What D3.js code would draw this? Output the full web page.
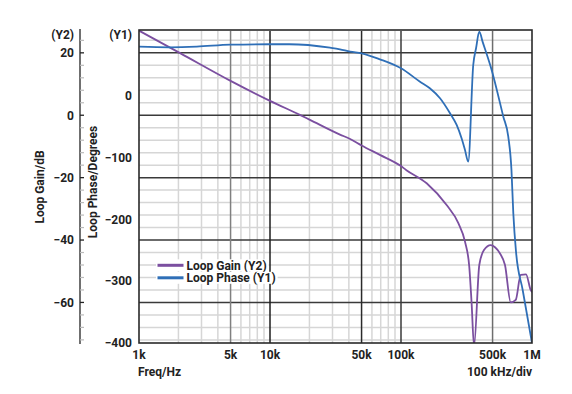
<!DOCTYPE html>
<html>
<head>
<meta charset="utf-8">
<script src="https://cdn.jsdelivr.net/npm/d3@7/dist/d3.min.js"></script>
<style>
  body { margin: 0; background: #fff; }
  text { font-family: Roboto, "DejaVu Sans", sans-serif; font-weight: 700; fill: #222; }
</style>
</head>
<body>
<svg id="chart" width="572" height="394"></svg>
<script>
// ---------- DATA ----------
const gainFreq = [1000, 2060, 5000, 10000, 16900, 20000, 34200, 40900, 50000, 69000, 100000, 110000,
  157000, 223000, 274000, 308000, 332000, 346000, 361000, 396000, 430000, 484000, 522000,
  570000, 622000, 688000, 751000, 820000, 900000, 977000, 1000000];
const gainDb = [27.1, 19.9, 11.0, 4.6, 0.1, -1.4, -6.2, -7.6, -9.7, -12.7, -16.3, -17.6,
  -21.8, -28.8, -34.6, -40.5, -48.5, -60.3, -74, -48.0, -43.2, -41.6, -42.3,
  -44.3, -48.0, -60.0, -59.2, -51.2, -51.0, -56.0, -56.7];

const phaseFreq = [1000, 1700, 2760, 5000, 10000, 14000, 28700, 34200, 40900, 50000, 69100, 100000,
  139700, 166000, 198600, 236700, 266000, 290000, 308000, 326000, 356000, 374000, 396000,
  420000, 492000, 604000, 659000, 697000, 720000, 755000, 849000, 1000000];
const phaseDeg = [78.7, 77.7, 78.7, 81.9, 82.6, 82.6, 77.1, 74.5, 70.6, 68.0, 58.3, 43.8,
  22.1, 11.5, -4.7, -28.9, -47.8, -69.3, -88.2, -107.1, 49.1, 76.1, 102.9,
  86.4, 41.0, -34.4, -66.7, -120.5, -190.5, -252.5, -314.4, -400];

const xTicks = [1e3, 5e3, 1e4, 5e4, 1e5, 5e5, 1e6];
const xTickLabels = ['1k', '5k', '10k', '50k', '100k', '500k', '1M'];
const minorFreqs = [2e3, 3e3, 4e3, 6e3, 7e3, 8e3, 9e3, 2e4, 3e4, 4e4, 6e4, 7e4, 8e4, 9e4];
const y2Ticks = [20, 0, -20, -40, -60];
const y2Minor = [24, 16, 12, 8, 4, -4, -8, -12, -16, -24, -28, -32, -36, -44, -48, -52, -56, -64, -68, -72];
const y1Ticks = [0, -100, -200, -300, -400];

// ---------- LAYOUT ----------
const plotL = 139, plotR = 532, plotT = 31, plotB = 343;
const svg = d3.select('#chart');

const x = d3.scaleLog().domain([1e3, 1e6]).range([plotL, plotR]);
const y1 = d3.scaleLinear().domain([-400, 104]).range([plotB, plotT]);
const y2 = d3.scaleLinear().domain([-73, 27]).range([plotB, plotT]);

// major vertical lines have different shades in the original
const vShade = { 5000: '#808080', 10000: '#1e1e1e', 50000: '#2a2a2a', 100000: '#3a3a3a', 500000: '#6e6e6e' };

// ---------- GRID ----------
const grid = svg.append('g');
grid.selectAll('.hminor').data(y2Minor).enter().append('line')
  .attr('x1', plotL).attr('x2', plotR)
  .attr('y1', d => y2(d)).attr('y2', d => y2(d))
  .attr('stroke', '#d6d6d6').attr('stroke-width', 1.5);
grid.selectAll('.vminor').data(minorFreqs).enter().append('line')
  .attr('x1', d => x(d)).attr('x2', d => x(d))
  .attr('y1', plotT).attr('y2', plotB)
  .attr('stroke', '#d6d6d6').attr('stroke-width', 1.5);
grid.selectAll('.hmajor').data(y2Ticks).enter().append('line')
  .attr('x1', plotL).attr('x2', plotR)
  .attr('y1', d => y2(d)).attr('y2', d => y2(d))
  .attr('stroke', '#3a3a3a').attr('stroke-width', 1.5);
grid.selectAll('.vmajor').data(xTicks.slice(1, -1)).enter().append('line')
  .attr('x1', d => x(d)).attr('x2', d => x(d))
  .attr('y1', plotT).attr('y2', plotB)
  .attr('stroke', d => vShade[d]).attr('stroke-width', 1.5);

// ---------- CURVES ----------
svg.append('clipPath').attr('id', 'plotClip')
  .append('rect').attr('x', plotL).attr('y', plotT - 1).attr('width', plotR - plotL).attr('height', plotB - plotT + 1);

const gainLine = d3.line().x(d => x(d[0])).y(d => y2(d[1])).curve(d3.curveMonotoneX);
const phaseLine = d3.line().x(d => x(d[0])).y(d => y1(d[1])).curve(d3.curveMonotoneX);

svg.append('path')
  .datum(d3.zip(gainFreq, gainDb))
  .attr('d', gainLine)
  .attr('clip-path', 'url(#plotClip)')
  .attr('fill', 'none').attr('stroke', '#7b4fa0').attr('stroke-width', 1.8)
  .attr('stroke-linejoin', 'round');

svg.append('path')
  .datum(d3.zip(phaseFreq, phaseDeg))
  .attr('d', phaseLine)
  .attr('clip-path', 'url(#plotClip)')
  .attr('fill', 'none').attr('stroke', '#2f6fb7').attr('stroke-width', 1.8)
  .attr('stroke-linejoin', 'round');

// plot frame
svg.append('rect')
  .attr('x', plotL).attr('y', plotT - 1).attr('width', plotR - plotL).attr('height', plotB - plotT + 1)
  .attr('fill', 'none').attr('stroke', '#2a2a2a').attr('stroke-width', 1.6);

// ---------- LEGEND ----------
const legendItems = [
  { label: 'Loop Gain (Y2)', color: '#7b4fa0', yPos: 265.3 },
  { label: 'Loop Phase (Y1)', color: '#2f6fb7', yPos: 277.8 }
];
const lg = svg.append('g');
legendItems.forEach(item => {
  const bg = lg.append('rect').attr('fill', '#fff');
  lg.append('line')
    .attr('x1', 157.5).attr('x2', 183.5)
    .attr('y1', item.yPos).attr('y2', item.yPos)
    .attr('stroke', item.color).attr('stroke-width', 3);
  const t = lg.append('text')
    .attr('x', 186.5).attr('y', item.yPos)
    .attr('dy', '0.36em')
    .style('font-size', '12px')
    .text(item.label);
  const w = t.node().getComputedTextLength();
  bg.attr('x', 156).attr('y', item.yPos - 6).attr('width', 186.5 + w + 2 - 156).attr('height', 12);
});

// ---------- AXES ----------
// x tick labels
svg.selectAll('.xlab').data(xTicks).enter().append('text')
  .attr('x', d => x(d)).attr('y', 355).attr('dy', '0.36em')
  .attr('text-anchor', 'middle')
  .style('font-size', '12px')
  .text((d, i) => xTickLabels[i]);

svg.append('text').attr('x', 138).attr('y', 372).attr('dy', '0.36em')
  .style('font-size', '12px').text('Freq/Hz');
svg.append('text').attr('x', 532).attr('y', 372).attr('dy', '0.36em')
  .attr('text-anchor', 'end')
  .style('font-size', '12px').text('100 kHz/div');

// Y2 axis (loop gain)
const y2x = 80;
svg.append('line').attr('x1', y2x).attr('x2', y2x).attr('y1', 29).attr('y2', 344)
  .attr('stroke', '#222').attr('stroke-width', 1.3);
svg.selectAll('.y2minor').data(y2Minor).enter().append('line')
  .attr('x1', y2x).attr('x2', y2x + 4)
  .attr('y1', d => y2(d)).attr('y2', d => y2(d))
  .attr('stroke', '#bbb').attr('stroke-width', 1.2);
svg.selectAll('.y2major').data(y2Ticks).enter().append('line')
  .attr('x1', y2x).attr('x2', y2x + 4)
  .attr('y1', d => y2(d)).attr('y2', d => y2(d))
  .attr('stroke', '#222').attr('stroke-width', 1.3);
svg.selectAll('.y2lab').data(y2Ticks).enter().append('text')
  .attr('x', 74).attr('y', d => y2(d)).attr('dy', '0.36em')
  .attr('text-anchor', 'end')
  .style('font-size', '12px')
  .text(d => d < 0 ? '\u2212' + Math.abs(d) : d);

// Y1 labels (loop phase)
svg.selectAll('.y1lab').data(y1Ticks).enter().append('text')
  .attr('x', 132).attr('y', d => y1(d)).attr('dy', '0.36em')
  .attr('text-anchor', 'end')
  .style('font-size', '12px')
  .text(d => d < 0 ? '\u2212' + Math.abs(d) : d);

svg.append('text').attr('x', 74).attr('y', 35).attr('dy', '0.36em')
  .attr('text-anchor', 'end').style('font-size', '12px').text('(Y2)');
svg.append('text').attr('x', 132).attr('y', 35).attr('dy', '0.36em')
  .attr('text-anchor', 'end').style('font-size', '12px').text('(Y1)');

// axis titles
svg.append('text')
  .attr('transform', 'translate(40,187) rotate(-90)')
  .attr('dy', '0.36em').attr('text-anchor', 'middle')
  .style('font-size', '12px').text('Loop Gain/dB');
svg.append('text')
  .attr('transform', 'translate(93,182) rotate(-90)')
  .attr('dy', '0.36em').attr('text-anchor', 'middle')
  .style('font-size', '12px').text('Loop Phase/Degrees');
</script>
</body>
</html>
